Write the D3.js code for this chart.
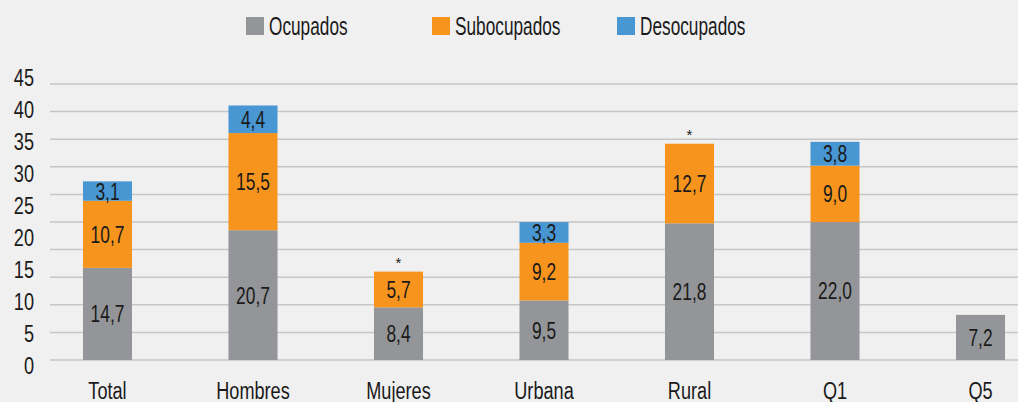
<!DOCTYPE html>
<html>
<head>
<meta charset="utf-8">
<script src="https://cdn.jsdelivr.net/npm/d3@7"></script>
<style>
  body { margin: 0; background: #f0f0f0; }
  svg { display: block; }
  text { font-family: "Liberation Sans", Arial, sans-serif; fill: #1a1a1a; }
  /* squeeze text to look like a narrow face */
  text.narrow { transform-box: fill-box; transform: scaleX(0.74); }
  text.legend { transform-box: fill-box; transform: scaleX(0.69); }
  text.mid { transform-origin: center; }
  text.end { transform-origin: right center; }
  text.start { transform-origin: left center; }
</style>
</head>
<body>
<div id="chart"></div>
<script>
// categories and series (percent)
const categories = ["Total", "Hombres", "Mujeres", "Urbana", "Rural", "Q1", "Q5"];
const ocupados    = [14.7, 20.7, 8.4, 9.5, 21.8, 22.0, 7.2];
const subocupados = [10.7, 15.5, 5.7, 9.2, 12.7, 9.0, 0];
const desocupados = [3.1, 4.4, 0, 3.3, 0, 3.8, 0];
const flagged     = ["Mujeres", "Rural"];   // marked with *
const seriesNames = ["Ocupados", "Subocupados", "Desocupados"];
const yTicks      = [0, 5, 10, 15, 20, 25, 30, 35, 40, 45];
const gridTicks   = [0, 5, 10, 15, 20, 25, 30, 35, 40, 45, 50];

const width = 1018, height = 402;
const colors = ["#939598", "#f7941d", "#4896d2"];

const svg = d3.select("#chart").append("svg")
    .attr("width", width)
    .attr("height", height);

/* Scales: bars, axis labels and grid lines don't share exactly the same spacing in the original */
const x = d3.scaleBand()
    .domain(categories)
    .range([34.75, 1053.25])
    .paddingInner(0.663)
    .paddingOuter(0.3315);
const y = d3.scaleLinear().domain([0, 45]).range([360, 77.9]);
const yLabel = d3.scaleLinear().domain([0, 45]).range([365, 77]);
const yGrid = d3.scaleLinear().domain([0, 50]).range([360, 84]);

// grid lines
svg.append("g")
    .selectAll("line")
    .data(gridTicks)
    .join("line")
    .attr("x1", 50)
    .attr("x2", width)
    .attr("y1", d => yGrid(d))
    .attr("y2", d => yGrid(d))
    .attr("stroke", "#c6c6c6")
    .attr("stroke-width", 1.5);

// y axis labels
const yAxis = d3.axisLeft(yLabel).tickValues(yTicks).tickSize(0).tickPadding(0);
const yGroup = svg.append("g")
    .attr("transform", "translate(34,0)")
    .call(yAxis);
yGroup.select(".domain").remove();
yGroup.selectAll("text")
    .attr("class", "narrow end")
    .attr("fill", "#1a1a1a")
    .attr("dy", "0.36em")
    .style("font-size", "24.5px")
    .style("font-family", null);

// stacked data
const table = categories.map((c, i) => ({
    cat: c,
    Ocupados: ocupados[i],
    Subocupados: subocupados[i],
    Desocupados: desocupados[i]
}));
const stack = d3.stack().keys(seriesNames)(table);

const layers = svg.append("g")
    .selectAll("g")
    .data(stack)
    .join("g")
    .attr("fill", (d, i) => colors[i]);

layers.selectAll("rect")
    .data(d => d.filter(p => p[1] - p[0] > 0))
    .join("rect")
    .attr("x", d => x(d.data.cat))
    .attr("y", d => y(d[1]))
    .attr("width", x.bandwidth())
    .attr("height", d => y(d[0]) - y(d[1]));

// value labels
layers.selectAll("text")
    .data(d => d.filter(p => p[1] - p[0] > 0))
    .join("text")
    .attr("class", "narrow mid")
    .attr("x", d => x(d.data.cat) + x.bandwidth() / 2)
    .attr("y", d => y((d[0] + d[1]) / 2))
    .attr("dy", "0.36em")
    .attr("text-anchor", "middle")
    .style("font-size", "23.5px")
    .text(d => d3.format(".1f")(d[1] - d[0]).replace(".", ","));

// asterisks
svg.append("g")
    .selectAll("text")
    .data(table.filter(d => flagged.includes(d.cat)))
    .join("text")
    .attr("x", d => x(d.cat) + x.bandwidth() / 2)
    .attr("y", d => y(d.Ocupados + d.Subocupados + d.Desocupados) - 4)
    .attr("text-anchor", "middle")
    .style("font-size", "15px")
    .text("*");

// x axis labels
const xAxis = d3.axisBottom(x).tickSize(0).tickPadding(0);
const xGroup = svg.append("g")
    .attr("transform", "translate(0,381.5)")
    .call(xAxis);
xGroup.select(".domain").remove();
xGroup.selectAll("text")
    .attr("class", "narrow mid")
    .attr("fill", "#1a1a1a")
    .attr("dy", "0.72em")
    .style("font-size", "24.5px")
    .style("font-family", null);

// legend
const legendX = [246, 432, 617];
const legend = svg.append("g")
    .selectAll("g")
    .data(seriesNames)
    .join("g")
    .attr("transform", (d, i) => `translate(${legendX[i]},17)`);
legend.append("rect")
    .attr("width", 18)
    .attr("height", 18)
    .attr("fill", (d, i) => colors[i]);
legend.append("text")
    .attr("class", "legend start")
    .attr("x", 23)
    .attr("y", 9)
    .attr("dy", "0.36em")
    .style("font-size", "25px")
    .text(d => d);
</script>
</body>
</html>
